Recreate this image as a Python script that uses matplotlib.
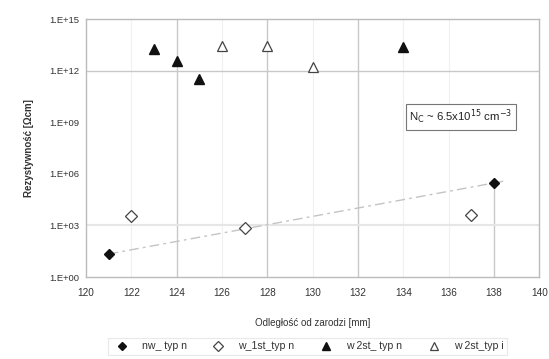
import matplotlib.pyplot as plt
import numpy as np

plt.rcParams['font.family'] = ['Liberation Sans', 'DejaVu Sans']

# data (y in log10 of resistivity)
nw_x = [121, 138]
nw_y = [1.34, 5.47]
w1_x = [122, 127, 137]
w1_y = [3.55, 2.85, 3.6]
w2n_x = [123, 124, 125, 134]
w2n_y = [13.26, 12.56, 11.5, 13.37]
w2i_x = [126, 128, 130]
w2i_y = [13.43, 13.43, 12.2]

xticks = list(range(120, 141, 2))
yticks = [0, 3, 6, 9, 12, 15]
ytick_labels = ['1.E+00', '1.E+03', '1.E+06', '1.E+09', '1.E+12', '1.E+15']

txt = '#333333'
fig = plt.figure(figsize=(5.49, 3.59), dpi=100)
ax = fig.add_axes([0.1566, 0.2284, 0.826, 0.7186])

# faded gridlines, as they survive in the scan
for gx in [124, 128, 132]:
    ax.axvline(gx, color='#c8c8c8', lw=1.0, zorder=0)
for gx in [122, 126, 130, 134, 136]:
    ax.axvline(gx, color='#f0f0f0', lw=0.8, zorder=0)
ax.axvline(138, ymax=(nw_y[1]) / 15, color='#c8c8c8', lw=1.0, zorder=0)
ax.axhline(12, color='#c8c8c8', lw=1.0, zorder=0)
ax.axhline(3, color='#e6e6e6', lw=1.5, zorder=0)

# exponential trend of nw_ typ n
k, b = np.polyfit(nw_x, nw_y, 1)
tx = np.array([nw_x[0], nw_x[-1] + 0.4])
ax.plot(tx, k * tx + b, color='#c4c4c4', lw=1.0, ls=(0, (7, 3, 2, 3)), zorder=1)

ax.plot(nw_x, nw_y, 'D', color='#111111', ms=5, ls='none', label='nw_ typ n')
ax.plot(w1_x, w1_y, 'D', mfc='white', mec='#444444', mew=0.9, ms=6, ls='none', label='w_1st_typ n')
ax.plot(w2n_x, w2n_y, '^', color='#111111', ms=7, ls='none', label='w 2st_ typ n')
ax.plot(w2i_x, w2i_y, '^', mfc='white', mec='#444444', mew=0.9, ms=7, ls='none', label='w 2st_typ i')

ax.set_xlim(120, 140)
ax.set_ylim(0, 15)
ax.set_xticks(xticks)
ax.set_xticklabels([str(v) for v in xticks], fontsize=7.2, color=txt)
ax.set_yticks(yticks)
ax.set_yticklabels(ytick_labels, fontsize=6.8, color=txt)
ax.tick_params(axis='y', length=0, pad=5)
ax.tick_params(axis='x', length=0, pad=8)
for s in ax.spines.values():
    s.set_color('#bbbbbb')
    s.set_linewidth(1.0)

ax.set_xlabel('Odległość od zarodzi [mm]', fontsize=7, color=txt, labelpad=14)
ax.set_ylabel('Rezystywność [Ωcm]', fontsize=7, color=txt, fontweight='bold', labelpad=11)

ax.text(134.25, 9.3, r'N$_{\mathrm{C}}$ ~ 6.5x10$^{15}$ cm$^{-3}$', fontsize=8.2, color='#222222',
        va='center', ha='left',
        bbox=dict(boxstyle='square,pad=0.3', fc='white', ec='#777777', lw=0.8))

leg = fig.legend(loc='center', bbox_to_anchor=(0.56, 0.035), ncol=4, frameon=True,
                 fontsize=7.6, labelcolor=txt, handletextpad=0.9, columnspacing=2.0,
                 markerscale=0.8, fancybox=False, borderpad=0.3)
leg.get_frame().set_edgecolor('#e4e4e4')
leg.get_frame().set_linewidth(0.8)

fig.savefig('out.png', dpi=100)
